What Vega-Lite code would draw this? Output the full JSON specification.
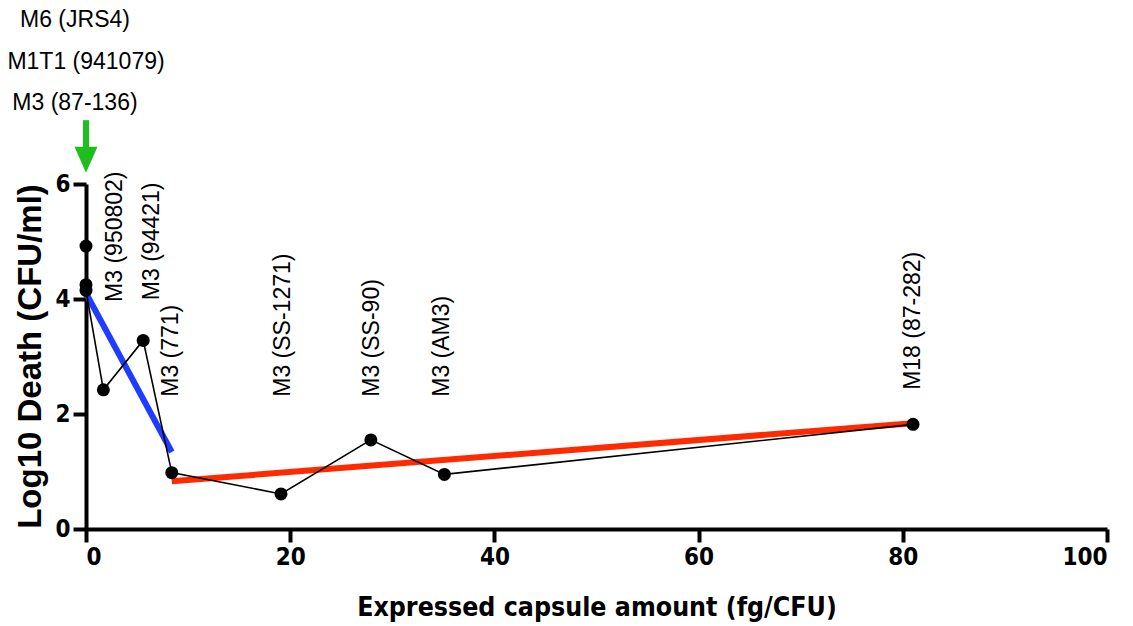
{
  "$schema": "https://vega.github.io/schema/vega-lite/v6.json",
  "width": 1021,
  "height": 345,
  "autosize": {"type": "none"},
  "padding": {"left": 86, "top": 184, "right": 26, "bottom": 97},
  "background": "white",
  "config": {
    "view": {"stroke": null},
    "axis": {
      "grid": false,
      "domainColor": "black",
      "domainWidth": 4,
      "tickColor": "black",
      "tickWidth": 4,
      "tickSize": 13,
      "labelColor": "black",
      "labelFont": "DejaVu Sans Condensed, Liberation Sans",
      "labelFontWeight": "bold",
      "labelFontSize": 24,
      "labelPadding": 3,
      "titleColor": "black",
      "titleFontWeight": "bold"
    }
  },
  "datasets": {
    "points": [
      {"strain": "M6 (JRS4)", "capsule": 0, "death": 4.92, "ord": 1},
      {"strain": "M1T1 (941079)", "capsule": 0, "death": 4.25, "ord": 2},
      {"strain": "M3 (87-136)", "capsule": 0, "death": 4.15, "ord": 3},
      {"strain": "M3 (950802)", "capsule": 1.7, "death": 2.42, "ord": 4},
      {"strain": "M3 (94421)", "capsule": 5.6, "death": 3.28, "ord": 5},
      {"strain": "M3 (771)", "capsule": 8.4, "death": 0.98, "ord": 6},
      {"strain": "M3 (SS-1271)", "capsule": 19.1, "death": 0.61, "ord": 7},
      {"strain": "M3 (SS-90)", "capsule": 27.9, "death": 1.55, "ord": 8},
      {"strain": "M3 (AM3)", "capsule": 35.1, "death": 0.95, "ord": 9},
      {"strain": "M18 (87-282)", "capsule": 81.0, "death": 1.82, "ord": 10}
    ],
    "fits": [
      {"fit": "low", "capsule": 0, "death": 4.1},
      {"fit": "low", "capsule": 8.4, "death": 1.34},
      {"fit": "high", "capsule": 8.4, "death": 0.83},
      {"fit": "high", "capsule": 81.0, "death": 1.84}
    ],
    "labels": [
      {"text": "M6 (JRS4)", "lx": -1.08, "ly": 8.85, "orient": "flat"},
      {"text": "M1T1 (941079)", "lx": 0, "ly": 8.12, "orient": "flat"},
      {"text": "M3 (87-136)", "lx": -1.08, "ly": 7.41, "orient": "flat"},
      {"text": "M3 (950802)", "lx": 2.84, "ly": 3.95, "orient": "up"},
      {"text": "M3 (94421)", "lx": 6.46, "ly": 3.98, "orient": "up"},
      {"text": "M3 (771)", "lx": 8.33, "ly": 2.3, "orient": "up"},
      {"text": "M3 (SS-1271)", "lx": 19.3, "ly": 2.3, "orient": "up"},
      {"text": "M3 (SS-90)", "lx": 28.0, "ly": 2.3, "orient": "up"},
      {"text": "M3 (AM3)", "lx": 34.9, "ly": 2.3, "orient": "up"},
      {"text": "M18 (87-282)", "lx": 81.0, "ly": 2.42, "orient": "up"}
    ],
    "arrow": [
      {"capsule": 0, "top": 7.11, "shaftEnd": 6.6, "head": 6.42}
    ]
  },
  "layer": [
    {
      "data": {"name": "fits"},
      "mark": {"type": "line", "strokeWidth": 6, "strokeCap": "butt"},
      "encoding": {
        "x": {
          "field": "capsule", "type": "quantitative",
          "scale": {"domain": [0, 100], "nice": false},
          "axis": {
            "values": [0, 20, 40, 60, 80, 100],
            "format": "d",
            "title": "Expressed capsule amount (fg/CFU)",
            "titleFont": "DejaVu Sans Condensed, Liberation Sans",
            "titleFontSize": 26.5,
            "titleBaseline": "middle",
            "titleY": 78
          }
        },
        "y": {
          "field": "death", "type": "quantitative",
          "scale": {"domain": [0, 6], "nice": false},
          "axis": {
            "values": [0, 2, 4, 6],
            "format": "d",
            "title": "Log10 Death (CFU/ml)",
            "titleFont": "Liberation Sans",
            "titleFontSize": 33,
            "titleBaseline": "middle",
            "titleX": -56,
            "titleY": 172
          }
        },
        "color": {
          "field": "fit", "type": "nominal",
          "scale": {"domain": ["low", "high"], "range": ["#1f3cff", "#ff2a00"]},
          "legend": null
        },
        "detail": {"field": "fit"}
      }
    },
    {
      "data": {"name": "points"},
      "mark": {"type": "line", "color": "black", "strokeWidth": 1.6},
      "encoding": {
        "x": {"field": "capsule", "type": "quantitative"},
        "y": {"field": "death", "type": "quantitative"},
        "order": {"field": "ord", "type": "quantitative"}
      }
    },
    {
      "data": {"name": "points"},
      "mark": {"type": "point", "shape": "circle", "filled": true, "color": "black", "size": 169, "opacity": 1},
      "encoding": {
        "x": {"field": "capsule", "type": "quantitative"},
        "y": {"field": "death", "type": "quantitative"}
      }
    },
    {
      "data": {"name": "labels"},
      "transform": [{"filter": "datum.orient === 'up'"}],
      "mark": {"type": "text", "angle": 270, "align": "left", "baseline": "middle", "font": "Liberation Sans", "fontSize": 23, "color": "black"},
      "encoding": {
        "x": {"field": "lx", "type": "quantitative"},
        "y": {"field": "ly", "type": "quantitative"},
        "text": {"field": "text"}
      }
    },
    {
      "data": {"name": "labels"},
      "transform": [{"filter": "datum.orient === 'flat'"}],
      "mark": {"type": "text", "align": "center", "baseline": "middle", "font": "Liberation Sans", "fontSize": 23, "color": "black"},
      "encoding": {
        "x": {"field": "lx", "type": "quantitative"},
        "y": {"field": "ly", "type": "quantitative"},
        "text": {"field": "text"}
      }
    },
    {
      "data": {"name": "arrow"},
      "mark": {"type": "rule", "color": "#1fbe1f", "strokeWidth": 6},
      "encoding": {
        "x": {"field": "capsule", "type": "quantitative"},
        "y": {"field": "top", "type": "quantitative"},
        "y2": {"field": "shaftEnd"}
      }
    },
    {
      "data": {"name": "arrow"},
      "mark": {"type": "point", "shape": "M-1,-1.13L1,-1.13L0,1.13Z", "filled": true, "color": "#1fbe1f", "size": 529, "opacity": 1},
      "encoding": {
        "x": {"field": "capsule", "type": "quantitative"},
        "y": {"field": "head", "type": "quantitative"}
      }
    }
  ]
}
